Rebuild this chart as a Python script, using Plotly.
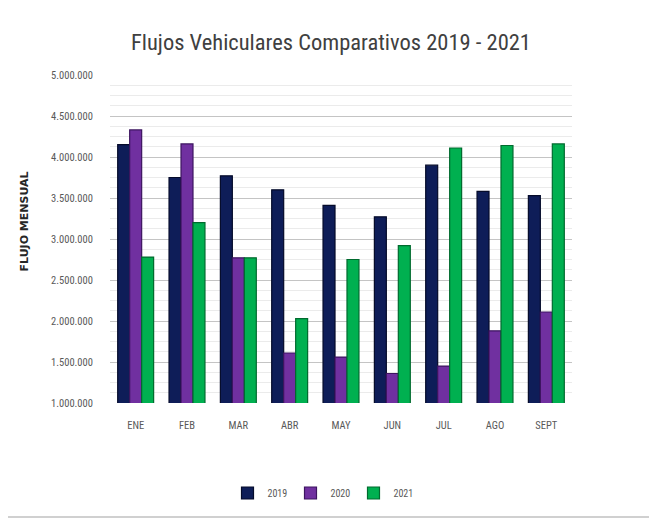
import plotly.graph_objects as go

months = ["ENE", "FEB", "MAR", "ABR", "MAY", "JUN", "JUL", "AGO", "SEPT"]
series_names = ["2019", "2020", "2021"]
v2019 = [4150000, 3750000, 3770000, 3600000, 3410000, 3270000, 3900000, 3580000, 3530000]
v2020 = [4330000, 4160000, 2770000, 1610000, 1560000, 1360000, 1450000, 1880000, 2110000]
v2021 = [2780000, 3200000, 2770000, 2030000, 2750000, 2920000, 4110000, 4140000, 4160000]
y_ticks = [1000000, 1500000, 2000000, 2500000, 3000000, 3500000, 4000000, 4500000, 5000000]

fills = ["#0e1d58", "#7030a0", "#00b050"]
edges = ["#050b2a", "#3d1560", "#006a2e"]

OFF = 8  # page body margin
W, H = 657 - OFF, 520 - OFF
# plot area in reference pixel coordinates
RL, RR, RT, RB = 110, 572, 75, 403
L, R, T, B = RL - OFF, RR - OFF, RT - OFF, RB - OFF


def px_x(px):
    return (px - OFF - L) / (R - L)


def px_y(py):
    return (B - (py - OFF)) / (B - T)


FONT = "Liberation Sans Narrow, Arial Narrow, Roboto Condensed, Roboto, sans-serif"

fig = go.Figure()
for name, vals, fc, ec in zip(series_names, [v2019, v2020, v2021], fills, edges):
    fig.add_trace(go.Bar(
        x=months, y=vals, name=name,
        marker=dict(color=fc, line=dict(color=ec, width=1.2)),
    ))

fig.update_layout(
    width=W, height=H,
    margin=dict(l=L, r=W - R, t=T, b=H - B),
    paper_bgcolor="white", plot_bgcolor="white",
    separators=",.",
    barmode="group", bargap=0.3, bargroupgap=0.0,
    font=dict(family=FONT, color="#595959", size=10),
    title=dict(text="Flujos Vehiculares Comparativos 2019 - 2021",
               x=px_x(331), xref="paper", xanchor="center",
               y=1 - (42 - OFF) / H, yref="container", yanchor="middle",
               font=dict(family=FONT, size=22.5, color="#404040")),
    legend=dict(orientation="h", x=px_x(322), xanchor="center",
                y=px_y(493), yanchor="middle",
                font=dict(size=10, color="#595959"),
                itemwidth=30, entrywidth=18, entrywidthmode="pixels",
                traceorder="normal"),
    showlegend=True,
)

fig.update_yaxes(
    range=[1000000, 5000000], tickvals=y_ticks, tickformat=",d",
    showgrid=True, gridcolor="#c4c4c4", gridwidth=1.2,
    minor=dict(dtick=125000, showgrid=True, gridcolor="#ebebeb", gridwidth=1),
    zeroline=False, showline=False,
    ticks="outside", ticklen=14, tickcolor="rgba(0,0,0,0)",
    tickfont=dict(size=10.5, color="#595959"),
)
fig.update_xaxes(
    showgrid=False, showline=False, zeroline=False,
    ticks="outside", ticklen=12, tickcolor="rgba(0,0,0,0)",
    tickfont=dict(size=10.5, color="#595959"),
)

fig.add_annotation(
    text="<b>FLUJO MENSUAL</b>", textangle=-90,
    x=px_x(16), y=px_y(222), xref="paper", yref="paper",
    showarrow=False, font=dict(family="DejaVu Sans, sans-serif", size=11, color="#262626"),
)

# light chart frame (bottom edge is the part inside the figure)
for x0, y0, x1, y1 in [(3, 517, 680, 517)]:
    fig.add_shape(type="line", xref="paper", yref="paper",
                  x0=px_x(x0), y0=px_y(y0), x1=px_x(x1), y1=px_y(y1),
                  line=dict(color="#d0d0d0", width=2))

fig.write_html("out.html")
